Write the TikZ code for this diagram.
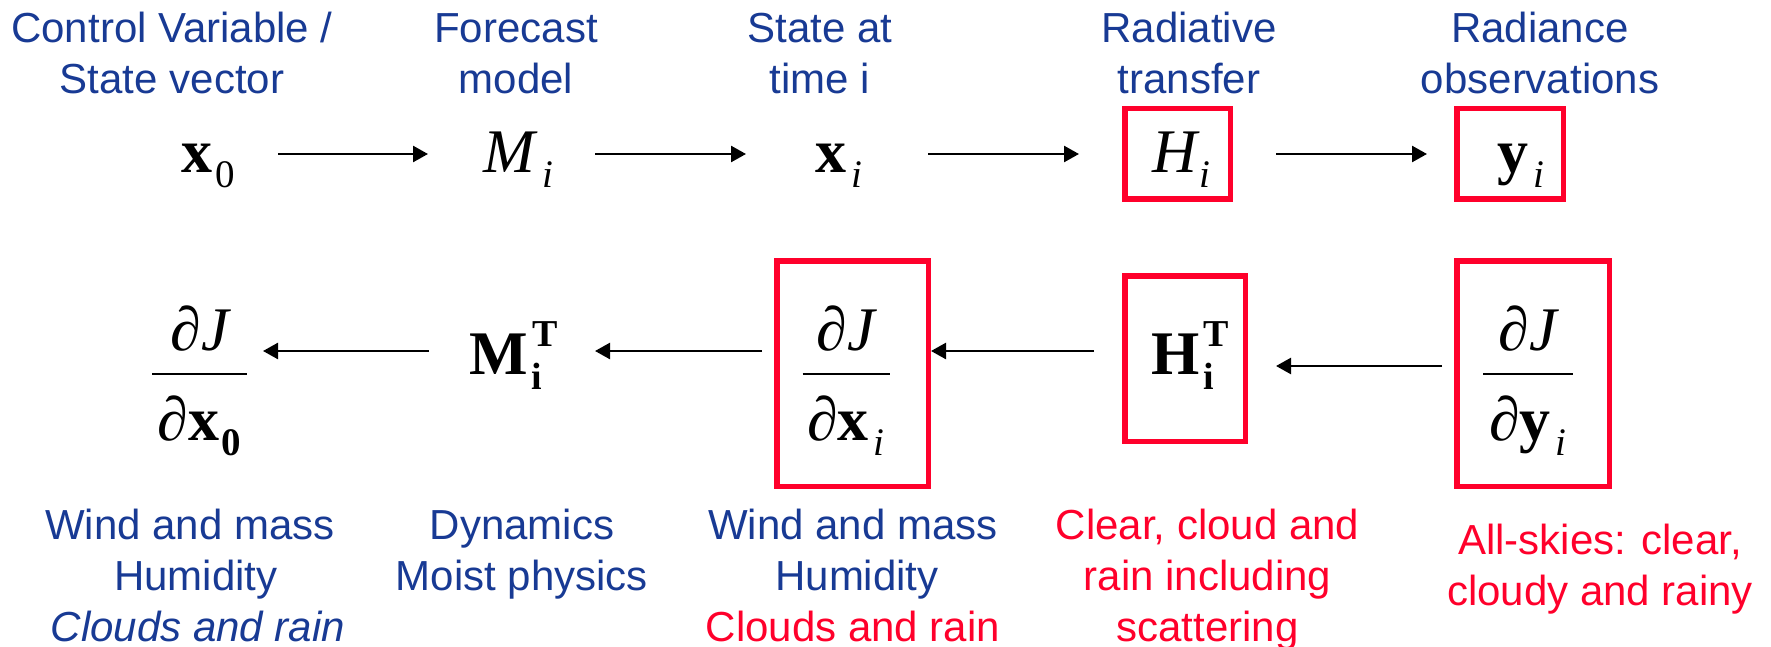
\documentclass[tikz,border=0pt]{standalone}
\usepackage{fontspec}
\setmainfont{Liberation Sans}
\newfontfamily\tms{Liberation Serif}
\usetikzlibrary{arrows.meta}
\definecolor{dblue}{RGB}{24,58,148}
\definecolor{bred}{RGB}{255,0,43}
\newcommand\mfont{\tms\fontsize{62}{62}\selectfont}
\newcommand\sfnt{\fontsize{39}{39}\selectfont}
\newcommand\subi{\raisebox{-15pt}{\sfnt\itshape\mdseries i}}
\newcommand\fracbox[3]{\vbox{\offinterlineskip\halign{\hfil##\hfil\cr\smash{#2}\cr\noalign{\kern22.6pt}\rule{#1}{2.8pt}\cr\noalign{\kern64.6pt}\smash{#3}\cr}}}
\begin{document}
\begin{tikzpicture}[x=1pt,y=-1pt,
  lab/.style={inner sep=0pt, align=center, font=\fontsize{42}{51}\selectfont, text=dblue},
  mth/.style={inner sep=0pt, anchor=base west, font=\mfont},
  frc/.style={inner sep=0pt, anchor=base, font=\mfont},
  rbox/.style={draw=bred, line width=5.5pt, inner sep=0pt},
  arr/.style={line width=2.5pt, -{Triangle[length=15pt,width=16pt]}}]
\fill[white] (0,0) rectangle (1771,647);
\useasboundingbox (0,0) rectangle (1771,647);
% top labels (anchor = baseline of last line)
\node[lab, anchor=base] (t1) at (172,94) {Control Variable /\\State vector};
\node[lab, anchor=base] (t2) at (516,94) {Forecast\\model};
\node[lab, anchor=base] (t3) at (820,94) {State at\\time i};
\node[lab, anchor=base] (t4) at (1189,94) {Radiative\\transfer};
\node[lab, anchor=base] (t5) at (1540,94) {Radiance\\observations};
% top row
\node[mth] (x0) at (181,173) {\bfseries x\kern3pt\raisebox{-15pt}{\sfnt\mdseries 0}};
\node[mth] (M) at (483,173) {\itshape M\kern8pt\subi};
\node[mth] (xi) at (815,173) {\bfseries x\kern5pt\subi};
\node[rbox, minimum width=105.5pt, minimum height=90.5pt] (Hbox) at (1177.5,154) {};
\node[mth] (H) at (1152,173) {\itshape H\kern3pt\subi};
\node[rbox, minimum width=106.5pt, minimum height=90.5pt] (ybox) at (1510,154) {};
\node[mth] (y) at (1497,173) {\bfseries y\kern5pt\subi};
\draw[arr] ([xshift=97pt,yshift=19pt]x0.base west) -- ([xshift=-55pt,yshift=19pt]M.base west);
\draw[arr] ([xshift=112pt,yshift=19pt]M.base west) -- ([xshift=-69pt,yshift=19pt]xi.base west);
\draw[arr] ([xshift=113pt,yshift=19pt]xi.base west) -- ([xshift=-43pt]Hbox.west);
\draw[arr] ([xshift=43pt]Hbox.east) -- ([xshift=-27pt]ybox.west);
% bottom row
\node[frc] (f0) at (199.5,440) {\fracbox{95pt}{∂{\itshape J}}{∂{\bfseries x}\kern2pt\raisebox{-15pt}{\sfnt\bfseries 0}}};
\node[mth] (MT) at (469,374) {\bfseries M\rlap{\kern5pt\raisebox{28pt}{\fontsize{38}{38}\selectfont T}}\kern4pt\raisebox{-15pt}{\fontsize{38}{38}\selectfont i}};
\node[rbox, minimum width=151.5pt, minimum height=225.5pt] (xibox) at (852.5,373.5) {};
\node[frc] (fxi) at (846,440) {\fracbox{87pt}{∂{\itshape J}}{∂{\bfseries x}\kern5pt\subi}};
\node[rbox, minimum width=120.5pt, minimum height=165.5pt] (HTbox) at (1185,358.5) {};
\node[mth] (HT) at (1151,374) {\bfseries H\rlap{\kern4pt\raisebox{28pt}{\fontsize{38}{38}\selectfont T}}\kern4pt\raisebox{-15pt}{\fontsize{38}{38}\selectfont i}};
\node[rbox, minimum width=152.5pt, minimum height=225.5pt] (ybox2) at (1533,373.5) {};
\node[frc] (fy) at (1528,440) {\fracbox{90pt}{∂{\itshape J}}{∂{\bfseries y}\kern5pt\subi}};
\draw[arr] ([xshift=-12pt,yshift=7.5pt]ybox2.west) -- ([xshift=28pt,yshift=-7.5pt]HTbox.east);
\draw[arr] ([xshift=-28pt,yshift=7.5pt]HTbox.west) -- ([yshift=22.5pt]xibox.east);
\draw[arr] ([xshift=-12pt,yshift=22.5pt]xibox.west) -- ([xshift=126pt,yshift=23pt]MT.base west);
\draw[arr] ([xshift=-40pt,yshift=23pt]MT.base west) -- ([xshift=63.5pt,yshift=89pt]f0.base);
% bottom labels (anchor = baseline of last line)
\node[lab, anchor=base] (b1) at (194,641) {Wind and mass\kern8pt\\\kern4pt Humidity\\\kern8pt\textit{Clouds and rain}};
\node[lab, anchor=base] (b2) at (522,590) {Dynamics\\Moist physics};
\node[lab, anchor=base] (b3) at (853,641) {Wind and mass\\\kern8pt Humidity\\\textcolor{bred}{Clouds and rain}};
\node[lab, anchor=base, text=bred] (b4) at (1207.5,641) {Clear, cloud and\\rain including\\scattering};
\node[lab, anchor=base, text=bred] (b5) at (1600,605) {All-skies: clear,\\cloudy and rainy};
\end{tikzpicture}
\end{document}
